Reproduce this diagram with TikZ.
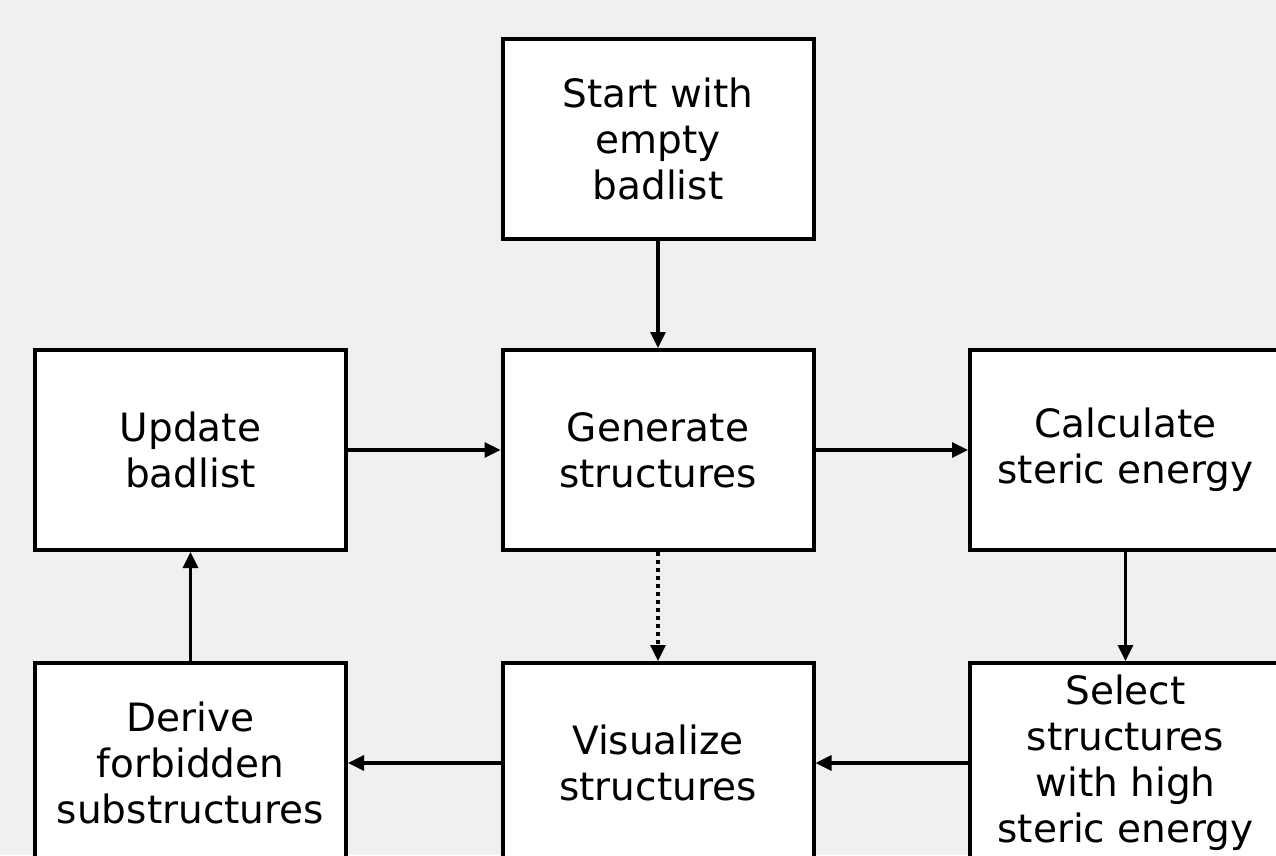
\documentclass[tikz,border=0pt]{standalone}
\usepackage{fontspec}
\setmainfont{DejaVu Sans}
\usetikzlibrary{arrows.meta}
\begin{document}
\begin{tikzpicture}[x=1pt,y=-1pt,
  stepbox/.style={draw=black, fill=white, line width=4pt, minimum width=311pt, minimum height=200pt, inner sep=0pt, align=center, font=\fontsize{39}{46}\selectfont},
  conn/.style={line width=3.2pt, -{Triangle[length=16pt,width=15pt]}},
  dotconn/.style={conn, dash pattern=on 4pt off 4pt}]
\useasboundingbox (0,0) rectangle (1276,855);
\fill[fill={rgb,255:red,240;green,240;blue,240}] (0,0) rectangle (1276,855);
\clip (0,0) rectangle (1276,855);
\node[stepbox] (start) at (658,139) {Start with\\empty\\badlist};
\node[stepbox] (update) at (190.5,450) {Update\\badlist};
\node[stepbox] (gen) at (658,450) {Generate\\structures};
\node[stepbox] (calc) at (1125.5,450) {Calculate\\steric energy};
\node[stepbox] (derive) at (190.5,763) {Derive\\forbidden\\substructures};
\node[stepbox] (vis) at (658,763) {Visualize\\structures};
\node[stepbox] (sel) at (1125.5,763) {Select\\structures\\with high\\steric energy};
\draw[conn] (start) -- (gen);
\draw[conn] (update) -- (gen);
\draw[conn] (gen) -- (calc);
\draw[conn] (calc) -- (sel);
\draw[conn] (sel) -- (vis);
\draw[conn] (vis) -- (derive);
\draw[conn] (derive) -- (update);
\draw[dotconn] (gen) -- (vis);
\end{tikzpicture}
\end{document}
